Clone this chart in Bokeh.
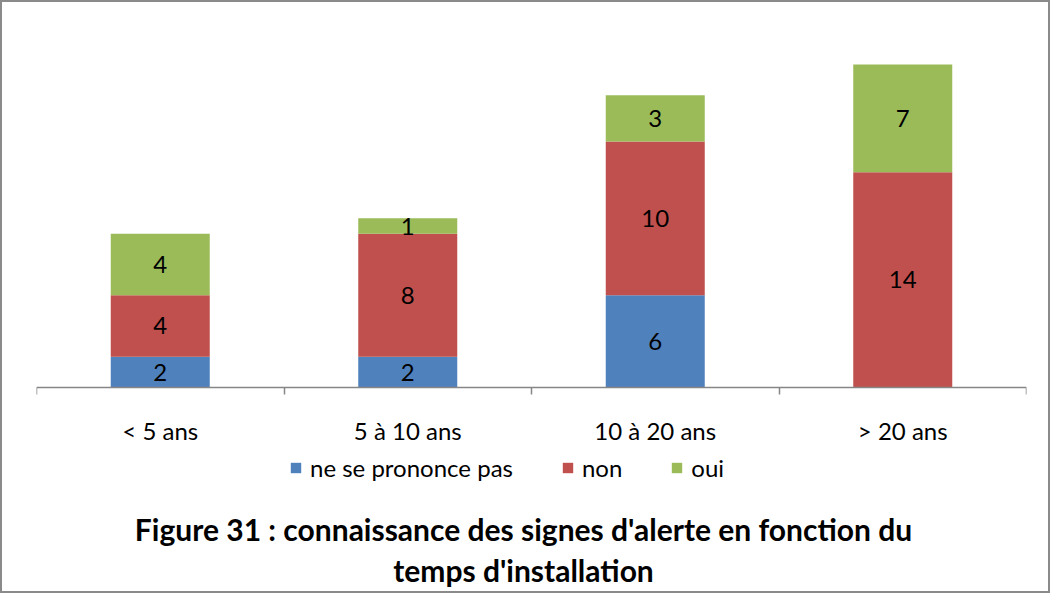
from bokeh.plotting import figure
from bokeh.models import (ColumnDataSource, Range1d, LinearAxis, FixedTicker,
                          Legend, LegendItem, Label)
from bokeh.core.properties import value
from bokeh.embed import file_html
from bokeh.resources import INLINE

categories = ["< 5 ans", "5 à 10 ans", "10 à 20 ans", "> 20 ans"]
series = ["ne se prononce pas", "non", "oui"]
ne_se_prononce_pas = [2, 2, 6, 0]
non = [4, 8, 10, 14]
oui = [4, 1, 3, 7]
colors = ["#4F81BD", "#C0504D", "#9BBB59"]
title_lines = ["Figure 31 : connaissance des signes d'alerte en fonction du",
               "temps d'installation"]

FONT = "Lato"
n = len(categories)
centers = [i + 0.5 for i in range(n)]
bounds = [float(i) for i in range(n + 1)]

src = ColumnDataSource(dict(x=centers, s0=ne_se_prononce_pas, s1=non, s2=oui))

p = figure(width=1050, height=593, x_range=Range1d(0, n), y_range=Range1d(-13.52, 24.9),
           output_backend="svg", toolbar_location=None,
           x_axis_location=None, y_axis_location=None,
           min_border_left=34, min_border_right=26, min_border_top=2,
           min_border_bottom=0)
p.outline_line_color = None
p.grid.grid_line_color = None
p.styles = {"border": "2px solid #8a8a8a", "box-sizing": "border-box"}

renderers = p.vbar_stack(["s0", "s1", "s2"], x="x", width=0.4, color=colors,
                         line_color=None, source=src)

# data labels
vals = [ne_se_prononce_pas, non, oui]
lx, ly, lt = [], [], []
for i in range(n):
    base = 0
    for s in range(len(series)):
        v = vals[s][i]
        if v > 0:
            lx.append(centers[i])
            ly.append(base + v / 2)
            lt.append(str(v))
        base += v
p.text(x=lx, y=ly, text=lt, text_align="center", text_baseline="middle",
       text_font=value(FONT), text_font_size="24px", text_color="black")

xaxis = LinearAxis(ticker=FixedTicker(ticks=centers, minor_ticks=bounds),
                   major_label_overrides={c: cat for c, cat in zip(centers, categories)},
                   fixed_location=0)
xaxis.axis_line_color = "#868686"
xaxis.axis_line_width = 1.5
xaxis.major_tick_line_color = None
xaxis.major_tick_out = 0
xaxis.major_tick_in = 0
xaxis.minor_tick_line_color = "#868686"
xaxis.minor_tick_line_width = 1.5
xaxis.minor_tick_out = 7
xaxis.minor_tick_in = 0
xaxis.major_label_standoff = 21
xaxis.major_label_text_font = FONT
xaxis.major_label_text_font_size = "24px"
xaxis.major_label_text_color = "black"
p.add_layout(xaxis, "below")

legend = Legend(items=[LegendItem(label=s, renderers=[r]) for s, r in zip(series, renderers)],
                orientation="horizontal", location=(253, 113),
                border_line_color=None, background_fill_alpha=0,
                glyph_width=13, glyph_height=13, label_standoff=8, spacing=48,
                label_text_font=FONT, label_text_font_size="24px",
                label_text_color="black", padding=0, margin=0)
p.add_layout(legend, "center")

title_y = [67, 26]
for line, ty in zip(title_lines, title_y):
    p.add_layout(Label(x=n / 2, y=ty, x_units="data", y_units="screen", x_offset=-8,
                       text=line, text_align="center", text_baseline="middle",
                       text_font=FONT, text_font_size="30px", text_font_style="bold",
                       text_color="black"))

open("out.html", "w").write(file_html(p, INLINE))
